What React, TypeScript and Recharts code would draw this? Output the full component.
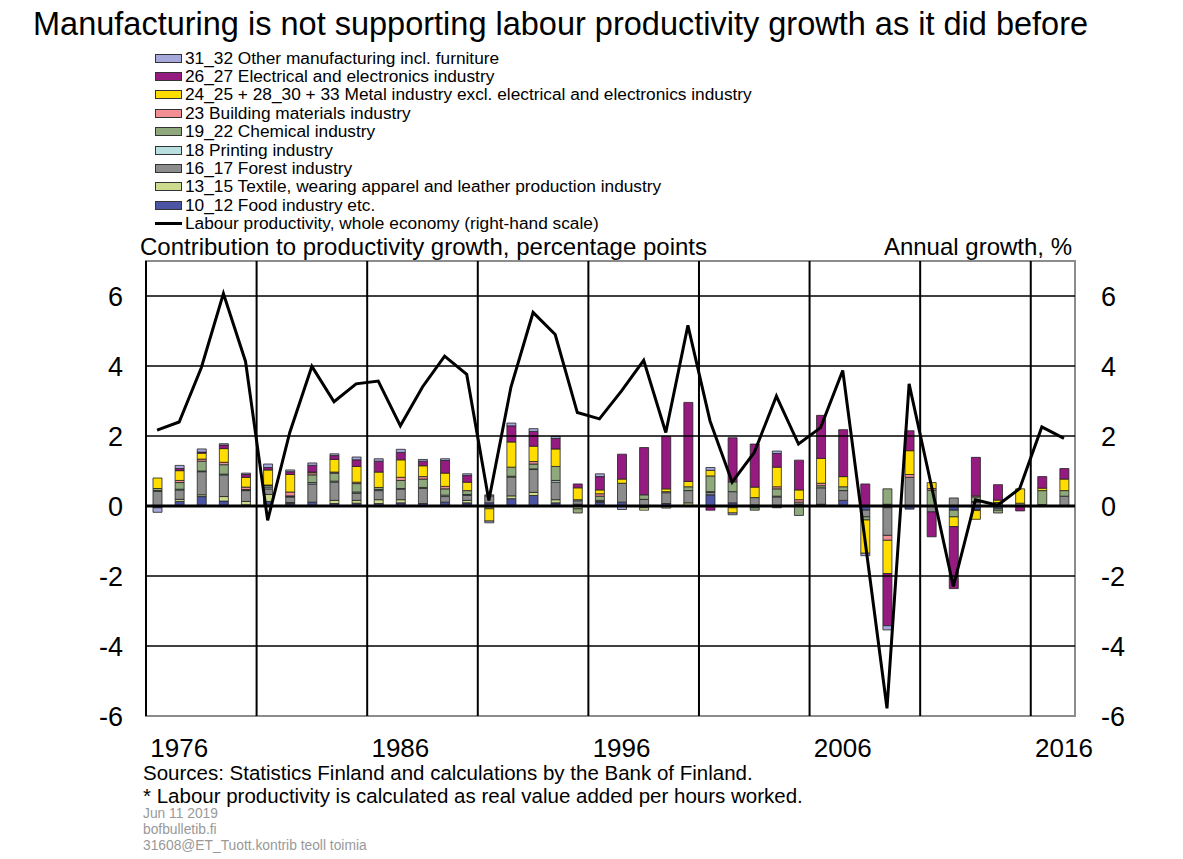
import React from 'react';
import { ComposedChart, Bar, Line, XAxis, YAxis, ReferenceLine, ReferenceArea } from 'recharts';

// years 1975–2016, one bar per year
const years = [
  '1975', '1976', '1977', '1978', '1979', '1980', '1981', '1982', '1983', '1984',
  '1985', '1986', '1987', '1988', '1989', '1990', '1991', '1992', '1993', '1994',
  '1995', '1996', '1997', '1998', '1999', '2000', '2001', '2002', '2003', '2004',
  '2005', '2006', '2007', '2008', '2009', '2010', '2011', '2012', '2013', '2014',
  '2015', '2016',
];

const food = [
  -0.05, 0.13, 0.27, 0.14, 0.03, 0.13, 0.07, 0.11, 0.07, 0.08,
  0.07, 0.09, 0.07, 0.11, 0.09, 0.09, 0.21, 0.3, 0.09, 0.05,
  0.1, 0.11, -0.05, 0.07, 0, 0.32, 0.09, 0.03, -0.05, 0.05,
  0.05, 0.16, -0.12, 0.05, -0.09, 0, -0.12, -0.1, -0.08, 0,
  0.04, 0,
];
const textile = [
  0, 0.06, 0.05, 0.13, 0.1, 0.2, 0.03, 0, 0.09, 0.08,
  0.11, 0.09, 0, 0, 0.07, -0.03, 0.08, 0.09, 0.09, -0.08,
  0.03, 0, -0.07, -0.06, 0.09, 0, -0.05, -0.05, 0.02, 0,
  0, 0, 0, -0.05, 0, 0, 0, -0.03, -0.04, 0,
  0, 0,
];
const forest = [
  0.42, 0.27, 0.66, 0.62, 0.31, 0.16, 0.16, 0.52, 0.52, 0.21,
  0.26, 0.3, 0.43, 0.16, 0.14, 0.2, 0.54, 0.66, 0.5, 0.1,
  0.03, 0.54, 0.19, 0.31, 0.35, 0.07, 0.32, 0.21, 0.24, 0.06,
  0.47, 0.28, -0.19, -0.79, 0.82, -0.17, 0.23, 0.1, 0.1, 0.08,
  0, 0.28,
];
const printing = [
  0.02, 0.02, 0.02, 0.02, 0.02, 0.05, 0.01, 0.04, 0.03, 0.03,
  0.03, 0.02, 0.03, 0.04, 0.03, 0.03, 0.02, 0.01, 0.05, 0.03,
  0, 0, 0, 0.03, 0, 0.02, 0, 0, 0.02, 0,
  0, 0, 0, 0, 0, 0, 0, 0.03, 0, 0,
  0, 0,
];
const chemical = [
  0.06, 0.19, 0.28, 0.27, 0.01, 0.05, 0.02, 0.22, 0.23, 0.24,
  0.06, 0.23, 0.24, 0.18, 0.11, -0.05, 0.26, 0.14, 0.4, -0.12,
  0.12, 0, 0.13, 0, 0.11, 0.45, 0.28, -0.07, 0.21, -0.27,
  0.06, 0.11, -0.09, 0.44, 0, 0.45, -0.19, 0.13, -0.08, 0,
  0.4, 0.16,
];
const building = [
  0, 0.06, 0.06, 0.07, 0.07, 0.01, 0.11, 0.06, 0.03, 0.04,
  0, 0.09, 0.07, 0.07, 0, 0, 0, 0.07, 0, 0,
  0.07, 0, 0, 0, 0, 0, 0, 0, 0.06, 0.07,
  0.07, 0, 0, -0.14, 0.08, 0.05, 0, 0.03, 0, 0,
  0, 0,
];
const metal = [
  0.3, 0.28, 0.17, 0.39, 0.28, 0.43, 0.5, 0.02, 0.36, 0.45,
  0.44, 0.5, 0.31, 0.38, 0.24, -0.35, 0.72, 0.44, 0.5, 0.34,
  0.11, 0.12, 0, 0.08, 0.15, 0.16, -0.15, 0.3, 0.56, 0.28,
  0.71, 0.29, -0.95, -0.95, 0.68, 0.17, -0.28, -0.25, 0.07, 0.41,
  0.07, 0.33,
];
const electrical = [
  0, 0.06, 0.03, 0.1, 0.08, 0.07, 0.08, 0.19, 0.11, 0.19,
  0.31, 0.21, 0.13, 0.36, 0.19, 0, 0.46, 0.42, 0.3, 0.11,
  0.38, 0.71, 1.35, 1.5, 2.26, -0.12, 1.26, 1.23, 0.39, 0.85,
  1.23, 1.34, 0.63, -1.49, 0.57, -0.71, -1.77, 1.1, 0.44, -0.14,
  0.33, 0.3,
];
const otherManuf = [
  -0.13, 0.09, 0.09, 0.04, 0.04, 0.1, 0.05, 0.07, 0.05, 0.08,
  0.07, 0.09, 0.05, 0.05, 0.05, -0.05, 0.08, 0.08, 0.06, 0,
  0.08, -0.1, 0, 0, 0, 0.08, -0.05, 0, 0.07, 0,
  0, 0, -0.07, -0.12, 0, 0, 0, 0, 0, 0,
  0, 0,
];
const labourProductivity = [
  2.17, 2.4, 3.95, 6.07, 4.13, -0.41, 2.1, 3.99, 2.98, 3.49,
  3.57, 2.29, 3.4, 4.28, 3.76, 0.16, 3.4, 5.53, 4.9, 2.67,
  2.49, 3.29, 4.16, 2.1, 5.16, 2.43, 0.68, 1.53, 3.14, 1.77,
  2.24, 3.87, -0.95, -5.78, 3.49, 0.6, -2.3, 0.18, 0.02, 0.5,
  2.26, 1.93,
];

const yearTicks = ['1976', '1986', '1996', '2006', '2016'];
const valueTicks = [-6, -4, -2, 0, 2, 4, 6];
const fiveYearLines = [5, 10, 15, 20, 25, 30, 35, 40];

const series = [
  { key: 'food', name: '10_12 Food industry etc.', color: '#4b55a3', values: food },
  { key: 'textile', name: '13_15 Textile, wearing apparel and leather production industry', color: '#ccdb8e', values: textile },
  { key: 'forest', name: '16_17 Forest industry', color: '#8c8c8c', values: forest },
  { key: 'printing', name: '18 Printing industry', color: '#b9e0e0', values: printing },
  { key: 'chemical', name: '19_22 Chemical industry', color: '#8fa87c', values: chemical },
  { key: 'building', name: '23 Building materials industry', color: '#f28f94', values: building },
  { key: 'metal', name: '24_25 + 28_30 + 33 Metal industry excl. electrical and electronics industry', color: '#ffdd00', values: metal },
  { key: 'electrical', name: '26_27 Electrical and electronics industry', color: '#951b81', values: electrical },
  { key: 'other', name: '31_32 Other manufacturing incl. furniture', color: '#a6a8dc', values: otherManuf },
];

const data = years.map((year, i) => {
  const row: any = { year, idx: i, lp: labourProductivity[i] };
  series.forEach((s) => {
    row[s.key] = s.values[i];
  });
  return row;
});

const font = '"Liberation Sans", Arial, sans-serif';

const ChartLegend = () => (
  <div style={{ position: 'absolute', left: 155, top: 49, fontFamily: font, fontSize: 17.3, color: '#000' }}>
    {[...series].reverse().map((s) => (
      <div key={s.key} style={{ display: 'flex', alignItems: 'center', height: 18.4, whiteSpace: 'nowrap' }}>
        <span style={{ width: 25, height: 7, background: s.color, border: '1px solid #333', marginRight: 3 }} />
        <span>{s.name}</span>
      </div>
    ))}
    <div style={{ display: 'flex', alignItems: 'center', height: 18.4, whiteSpace: 'nowrap' }}>
      <span style={{ width: 27, height: 3, background: '#000', marginRight: 3 }} />
      <span>Labour productivity, whole economy (right-hand scale)</span>
    </div>
  </div>
);

const App = () => {
  return (
    <div style={{ position: 'absolute', left: 0, top: 0, width: 1183, height: 859, background: '#fff', fontFamily: font }}>
      <div style={{ position: 'absolute', left: 33, top: 8, fontSize: 32.5, lineHeight: 1, whiteSpace: 'nowrap' }}>
        Manufacturing is not supporting labour productivity growth as it did before
      </div>
      <ChartLegend />
      <div style={{ position: 'absolute', left: 140, top: 235, fontSize: 24, lineHeight: 1, whiteSpace: 'nowrap' }}>
        Contribution to productivity growth, percentage points
      </div>
      <div style={{ position: 'absolute', right: 1183 - 1072, top: 235, fontSize: 24, lineHeight: 1, whiteSpace: 'nowrap' }}>
        Annual growth, %
      </div>
      <ComposedChart
        width={1183}
        height={859}
        data={data}
        stackOffset="sign"
        barSize={9}
        margin={{ top: 261, right: 48, bottom: 103, left: 86 }}
        style={{ position: 'absolute', left: 0, top: 0 }}
      >
        <XAxis
          dataKey="year"
          ticks={yearTicks}
          interval={0}
          axisLine={false}
          tickLine={false}
          tickMargin={17}
          height={40}
          tick={{ fontSize: 26, fill: '#000', fontFamily: font }}
        />
        <XAxis xAxisId="g" dataKey="idx" type="number" domain={[0, 42]} allowDataOverflow hide />
        <YAxis
          yAxisId="left"
          domain={[-6, 7]}
          ticks={valueTicks}
          allowDataOverflow
          width={60}
          axisLine={false}
          tickLine={false}
          tickMargin={17}
          tick={{ fontSize: 27, fill: '#000', fontFamily: font }}
        />
        <YAxis
          yAxisId="right"
          orientation="right"
          domain={[-6, 7]}
          ticks={valueTicks}
          allowDataOverflow
          width={60}
          axisLine={false}
          tickLine={false}
          tickMargin={20}
          tick={{ fontSize: 27, fill: '#000', fontFamily: font, textAnchor: 'start' }}
        />
        <ReferenceArea
          xAxisId="g"
          yAxisId="left"
          x1={0}
          x2={42}
          y1={-6}
          y2={7}
          fill="none"
          fillOpacity={0}
          stroke="#8c8c8c"
          strokeWidth={2}
        />
        {valueTicks
          .filter((v) => v !== -6)
          .map((v) => (
            <ReferenceLine key={`h${v}`} yAxisId="left" y={v} stroke="#000" strokeWidth={v === 0 ? 3 : 1.5} />
          ))}
        {fiveYearLines.map((x) => (
          <ReferenceLine key={`v${x}`} xAxisId="g" yAxisId="left" x={x} stroke="#000" strokeWidth={2} />
        ))}
        <ReferenceLine xAxisId="g" yAxisId="left" x={0} stroke="#000" strokeWidth={2} />
        {series.map((s) => (
          <Bar
            key={s.key}
            dataKey={s.key}
            name={s.name}
            stackId="m"
            yAxisId="left"
            fill={s.color}
            stroke="#222"
            strokeWidth={0.8}
            isAnimationActive={false}
          />
        ))}
        <Line
          yAxisId="right"
          dataKey="lp"
          type="linear"
          stroke="#000"
          strokeWidth={3}
          dot={false}
          activeDot={false}
          isAnimationActive={false}
        />
      </ComposedChart>
      <div style={{ position: 'absolute', left: 143, top: 763, fontSize: 20.5, lineHeight: 1, whiteSpace: 'nowrap' }}>
        Sources: Statistics Finland and calculations by the Bank of Finland.
      </div>
      <div style={{ position: 'absolute', left: 143, top: 786, fontSize: 20.5, lineHeight: 1, whiteSpace: 'nowrap' }}>
        * Labour productivity is calculated as real value added per hours worked.
      </div>
      <div style={{ position: 'absolute', left: 143, top: 806, fontSize: 13.8, lineHeight: '16px', color: '#999' }}>
        <div>Jun 11 2019</div>
        <div>bofbulletib.fi</div>
        <div>31608@ET_Tuott.kontrib teoll toimia</div>
      </div>
    </div>
  );
};

export default App;
